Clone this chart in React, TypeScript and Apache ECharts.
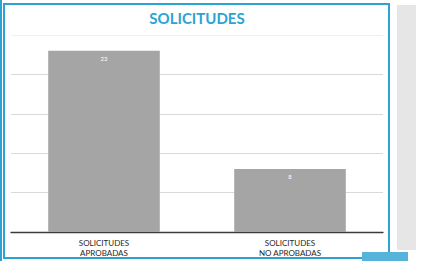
import React, { useEffect, useRef } from "react";
import * as echarts from "echarts";

const categories = ["SOLICITUDES\nAPROBADAS", "SOLICITUDES\nNO APROBADAS"];
const values = [23, 8];
const titleText = "SOLICITUDES";

export default function App() {
  const ref = useRef<HTMLDivElement>(null);
  useEffect(() => {
    document.body.style.margin = "0";
    const chart = echarts.init(ref.current!, null, { renderer: "svg" });
    chart.setOption({
      animation: false,
      backgroundColor: "#ffffff",
      grid: { left: 11, right: 40, top: 35, bottom: 29 },
      xAxis: {
        type: "category",
        data: categories,
        axisLine: { lineStyle: { color: "#3a3a3a", width: 1.3 } },
        axisTick: { show: false },
        axisLabel: { fontFamily: "Lato", fontSize: 8, color: "#1f1f1f", lineHeight: 10, margin: 6 },
      },
      yAxis: {
        type: "value",
        min: 0,
        max: 25,
        interval: 5,
        axisLabel: { show: false },
        axisLine: { show: false },
        axisTick: { show: false },
        splitLine: {
          lineStyle: {
            color: ["#d9d9d9", "#d9d9d9", "#d9d9d9", "#d9d9d9", "#d9d9d9", "#f0f0f0"],
            width: 1,
          },
        },
      },
      series: [
        {
          type: "bar",
          data: values,
          barWidth: "60%",
          itemStyle: { color: "#a5a5a5" },
          label: {
            show: true,
            position: "insideTop",
            distance: 5,
            fontSize: 6,
            color: "#ffffff",
            fontFamily: "Lato",
          },
        },
      ],
      graphic: [
        {
          type: "text",
          x: 197,
          y: 10,
          style: {
            text: titleText,
            textAlign: "center",
            fill: "#2ba3d5",
            font: "bold 15px Lato",
          },
        },
        { type: "rect", shape: { x: 0, y: 0, width: 2, height: 261 }, style: { fill: "#2ba3d5" } },
        {
          type: "rect",
          shape: { x: 4, y: 4, width: 385, height: 254 },
          style: { fill: "none", stroke: "#2ba3d5", lineWidth: 2 },
        },
        { type: "rect", shape: { x: 397, y: 5, width: 19, height: 245 }, style: { fill: "#e6e6e6" } },
        { type: "rect", shape: { x: 362, y: 252, width: 46, height: 9 }, style: { fill: "#56b3d9" } },
      ],
    });
    return () => chart.dispose();
  }, []);
  return <div ref={ref} style={{ position: "absolute", left: 0, top: 0, width: 423, height: 261 }} />;
}
